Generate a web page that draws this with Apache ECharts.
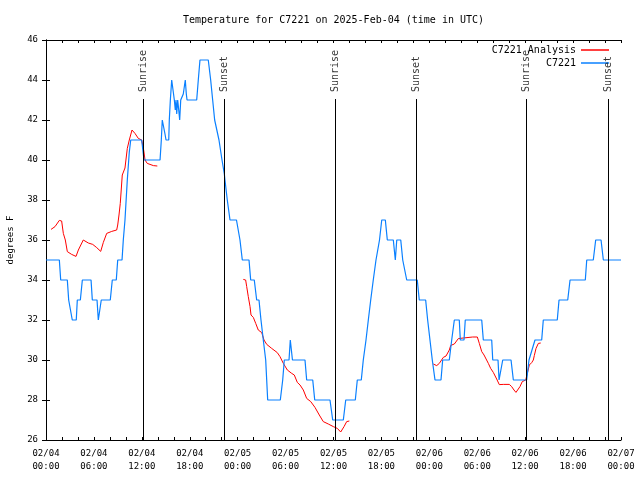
<!DOCTYPE html>
<html>
<head>
<meta charset="utf-8">
<script src="https://cdn.jsdelivr.net/npm/echarts@6/dist/echarts.min.js"></script>
<style>html,body{margin:0;padding:0;background:#fff}#c{width:640px;height:480px}</style>
</head>
<body>
<div id="c"></div>
<script>
// ---- data (x = hours since 2025-02-04 00:00 UTC) ----
const chartTitle = 'Temperature for C7221 on 2025-Feb-04 (time in UTC)';
const yAxisTitle = 'degrees F';
const stationName = 'C7221';
const analysisName = 'C7221 Analysis';

const blueHours = [0,1.67,1.84,2.67,2.84,3.01,3.29,3.79,3.92,4.30,4.55,5.64,5.80,6.39,6.55,6.80,6.92,8.05,8.30,8.80,8.98,9.52,9.68,9.89,10.18,10.43,10.61,11.98,12.27,14.28,14.44,14.56,14.78,14.90,15.03,15.37,15.44,15.57,15.74,15.99,16.07,16.19,16.28,16.37,16.49,16.62,16.74,16.87,17.07,17.19,17.32,17.44,17.57,17.66,18.87,19.07,19.28,20.32,20.62,20.87,21.12,21.66,22.04,22.33,22.41,22.70,23.04,23.85,24.29,24.58,25.42,25.63,26.08,26.38,26.67,26.92,27.21,27.51,27.76,29.34,29.64,29.84,30.43,30.59,30.84,30.86,32.43,32.64,33.40,33.65,35.56,35.90,37.23,37.53,38.73,38.98,39.48,39.73,40.07,40.36,40.66,40.98,41.32,41.76,42.04,42.49,42.74,43.49,43.74,43.92,44.42,44.67,45.17,46.49,46.74,47.54,47.79,48.08,48.37,48.71,49.46,49.67,50.50,50.80,51.13,51.75,51.88,52.34,52.50,54.56,54.76,55.81,55.94,56.60,56.73,56.98,57.19,58.23,58.52,60.19,60.48,61.23,62.07,62.27,64.02,64.24,65.33,65.62,67.53,67.71,68.53,68.83,69.50,69.79,72.0];
const blueTemps = [35,35,34,34,33,33,32,32,33,33,34,34,33,33,32,32,33,33,34,34,35,35,36,37,39,40.4,41,41,40,40,41,42,42,41.3,41,41,42,43,44,44,43,42.5,43,42.3,43,42.5,42,43,43,43.3,43.3,44,43.3,43,43,44,45,45,44,43,42,41,40,39.3,39,38,37,37,36,35,35,34,34,33,33,32,31,30,28,28,29,30,30,31,31,30,30,29,29,28,28,27,27,28,28,29,29,30,31,32,33,34,35,36,37,37,36,36,35,36,36,35,34,34,33,33,32,31,30,29,29,30,30,31,32,32,31,31,32,32,31,31,30,30,29,29,30,30,29,29,30,31,31,32,32,33,33,34,34,35,35,36,36,35,35];

const redHours = [0.63,1.13,1.67,1.96,2.17,2.42,2.67,3.21,3.76,4.05,4.67,5.30,5.85,6.35,6.85,7.18,7.60,8.23,8.85,8.98,9.14,9.30,9.55,9.89,10.18,10.43,10.77,11.14,11.56,11.98,12.23,12.40,12.68,13.44,13.94,
  19.0,
  24.71,25.0,25.13,25.33,25.55,25.67,25.96,26.26,26.58,27.01,27.30,27.64,28.26,28.96,29.30,29.72,30.22,30.77,31.09,31.47,31.81,32.22,32.64,33.15,33.68,34.22,34.72,35.35,35.98,36.48,36.90,37.32,37.65,37.98,
  43.0,
  48.50,48.92,49.25,49.75,50.09,50.50,50.68,51.13,51.63,52.25,53.43,54.01,54.26,54.56,54.85,55.10,55.39,55.68,56.01,56.43,56.76,57.26,58.01,58.31,58.60,58.85,59.06,59.35,59.64,60.07,60.27,60.52,60.82,61.02,61.15,61.36,61.65,61.95];
const redTemps = [36.53,36.67,36.98,36.95,36.33,36.0,35.42,35.28,35.18,35.5,36.0,35.85,35.78,35.62,35.43,35.88,36.33,36.43,36.5,36.75,37.25,37.83,39.25,39.6,40.58,41,41.5,41.33,41.08,41.0,40.5,40.0,39.83,39.72,39.7,
  null,
  34.03,34.0,33.67,33.17,32.67,32.25,32.13,31.83,31.5,31.37,31.0,30.78,30.58,30.37,30.17,29.83,29.5,29.33,29.25,28.88,28.75,28.5,28.08,27.92,27.63,27.25,26.92,26.8,26.67,26.58,26.4,26.67,26.92,26.95,
  null,
  29.8,29.72,29.83,30.13,30.2,30.5,30.73,30.8,31.07,31.1,31.15,31.15,30.83,30.42,30.25,30.17,29.83,29.58,29.38,29.05,28.77,28.78,28.78,28.67,28.5,28.38,28.42,28.67,28.92,29.0,29.33,29.75,29.87,30.0,30.23,30.58,30.83,30.85];

const eventNames = ['Sunrise','Sunset','Sunrise','Sunset','Sunrise','Sunset'];
const eventHours = [12.18,22.33,36.23,46.37,60.14,70.46];

const yMin = 26, yMax = 46, yStep = 2;
const xMin = 0, xMax = 72, xStep = 2;

// ---- chart ----
const FONT = 'DejaVu Sans Mono';
const BLUE = '#0a80ff', RED = '#ff0000';
const lineTop = 43.05, labelAt = 43.4;

function pad(n){ return (n < 10 ? '0' : '') + n; }
function xLabel(v){
  if (v % 6 !== 0) return '';
  const day = 4 + Math.floor(v / 24);
  return '02/' + pad(day) + '\n' + pad(v % 24) + ':00';
}

const chart = echarts.init(document.getElementById('c'), null, {renderer:'canvas'});
const axisCommon = {
  axisLine:{show:true, lineStyle:{color:'#000', width:1}},
  axisTick:{show:true, inside:true, length:4, lineStyle:{color:'#000'}},
  splitLine:{show:false}
};
const xTick = {axisTick:{show:true, inside:true, length:3, lineStyle:{color:'#000'}}};
chart.setOption({
  animation:false,
  backgroundColor:'#fff',
  title:{text:chartTitle, left:183, top:15, padding:0,
    textStyle:{fontFamily:FONT, fontSize:10, fontWeight:'normal', color:'#000'}},
  legend:{
    data:[analysisName, stationName], orient:'vertical', right:31, top:44, padding:0,
    align:'right', icon:'rect', itemWidth:28, itemHeight:1.5, itemGap:1,
    textStyle:{fontFamily:FONT, fontSize:10, color:'#000', lineHeight:12}
  },
  grid:{left:46, right:19, top:40, bottom:40, containLabel:false, outerBoundsMode:'none'},
  xAxis:[
    Object.assign({type:'value', min:xMin, max:xMax, interval:xStep, position:'bottom',
      axisLabel:{formatter:xLabel, fontFamily:FONT, fontSize:9, color:'#000', lineHeight:13, margin:7,
        showMinLabel:true, showMaxLabel:true}}, axisCommon, xTick),
    Object.assign({type:'value', min:xMin, max:xMax, interval:xStep, position:'top',
      axisLabel:{show:false}}, axisCommon, xTick)
  ],
  yAxis:[
    Object.assign({type:'value', min:yMin, max:yMax, interval:yStep, position:'left',
      name:yAxisTitle, nameLocation:'middle', nameGap:31, nameRotate:90,
      nameTextStyle:{fontFamily:FONT, fontSize:9, color:'#000'},
      axisLabel:{fontFamily:FONT, fontSize:9, color:'#000', margin:8}}, axisCommon),
    Object.assign({type:'value', min:yMin, max:yMax, interval:yStep, position:'right',
      axisLabel:{show:false}}, axisCommon)
  ],
  series:[
    {
      name:analysisName, type:'line', xAxisIndex:0, yAxisIndex:0,
      data:redHours.map((h,i)=>[h, redTemps[i] === null ? '-' : redTemps[i]]),
      connectNulls:false, showSymbol:false, symbol:'none',
      lineStyle:{color:RED, width:1}, itemStyle:{color:RED}, z:3
    },
    {
      name:stationName, type:'line', xAxisIndex:0, yAxisIndex:0,
      data:blueHours.map((h,i)=>[h, blueTemps[i]]),
      showSymbol:false, symbol:'none',
      lineStyle:{color:BLUE, width:1.2}, itemStyle:{color:BLUE}, z:4
    },
    {
      name:'events', type:'scatter', xAxisIndex:0, yAxisIndex:0, silent:true,
      symbol:'circle', symbolSize:1, itemStyle:{color:'rgba(0,0,0,0)'},
      data:eventHours.map((h,i)=>({name:eventNames[i], value:[h, labelAt]})),
      label:{show:true, formatter:function(p){return p.name;}, rotate:90, position:'inside',
        align:'left', verticalAlign:'middle', offset:[1,0],
        fontFamily:FONT, fontSize:10, color:'#000'},
      labelLayout:{hideOverlap:false},
      markLine:{silent:true, symbol:['none','none'], label:{show:false},
        lineStyle:{color:'#000', width:1, type:'solid'},
        data:eventHours.map(h=>[{coord:[h, yMin]},{coord:[h, lineTop]}])},
      z:5
    }
  ]
});
</script>
</body>
</html>
